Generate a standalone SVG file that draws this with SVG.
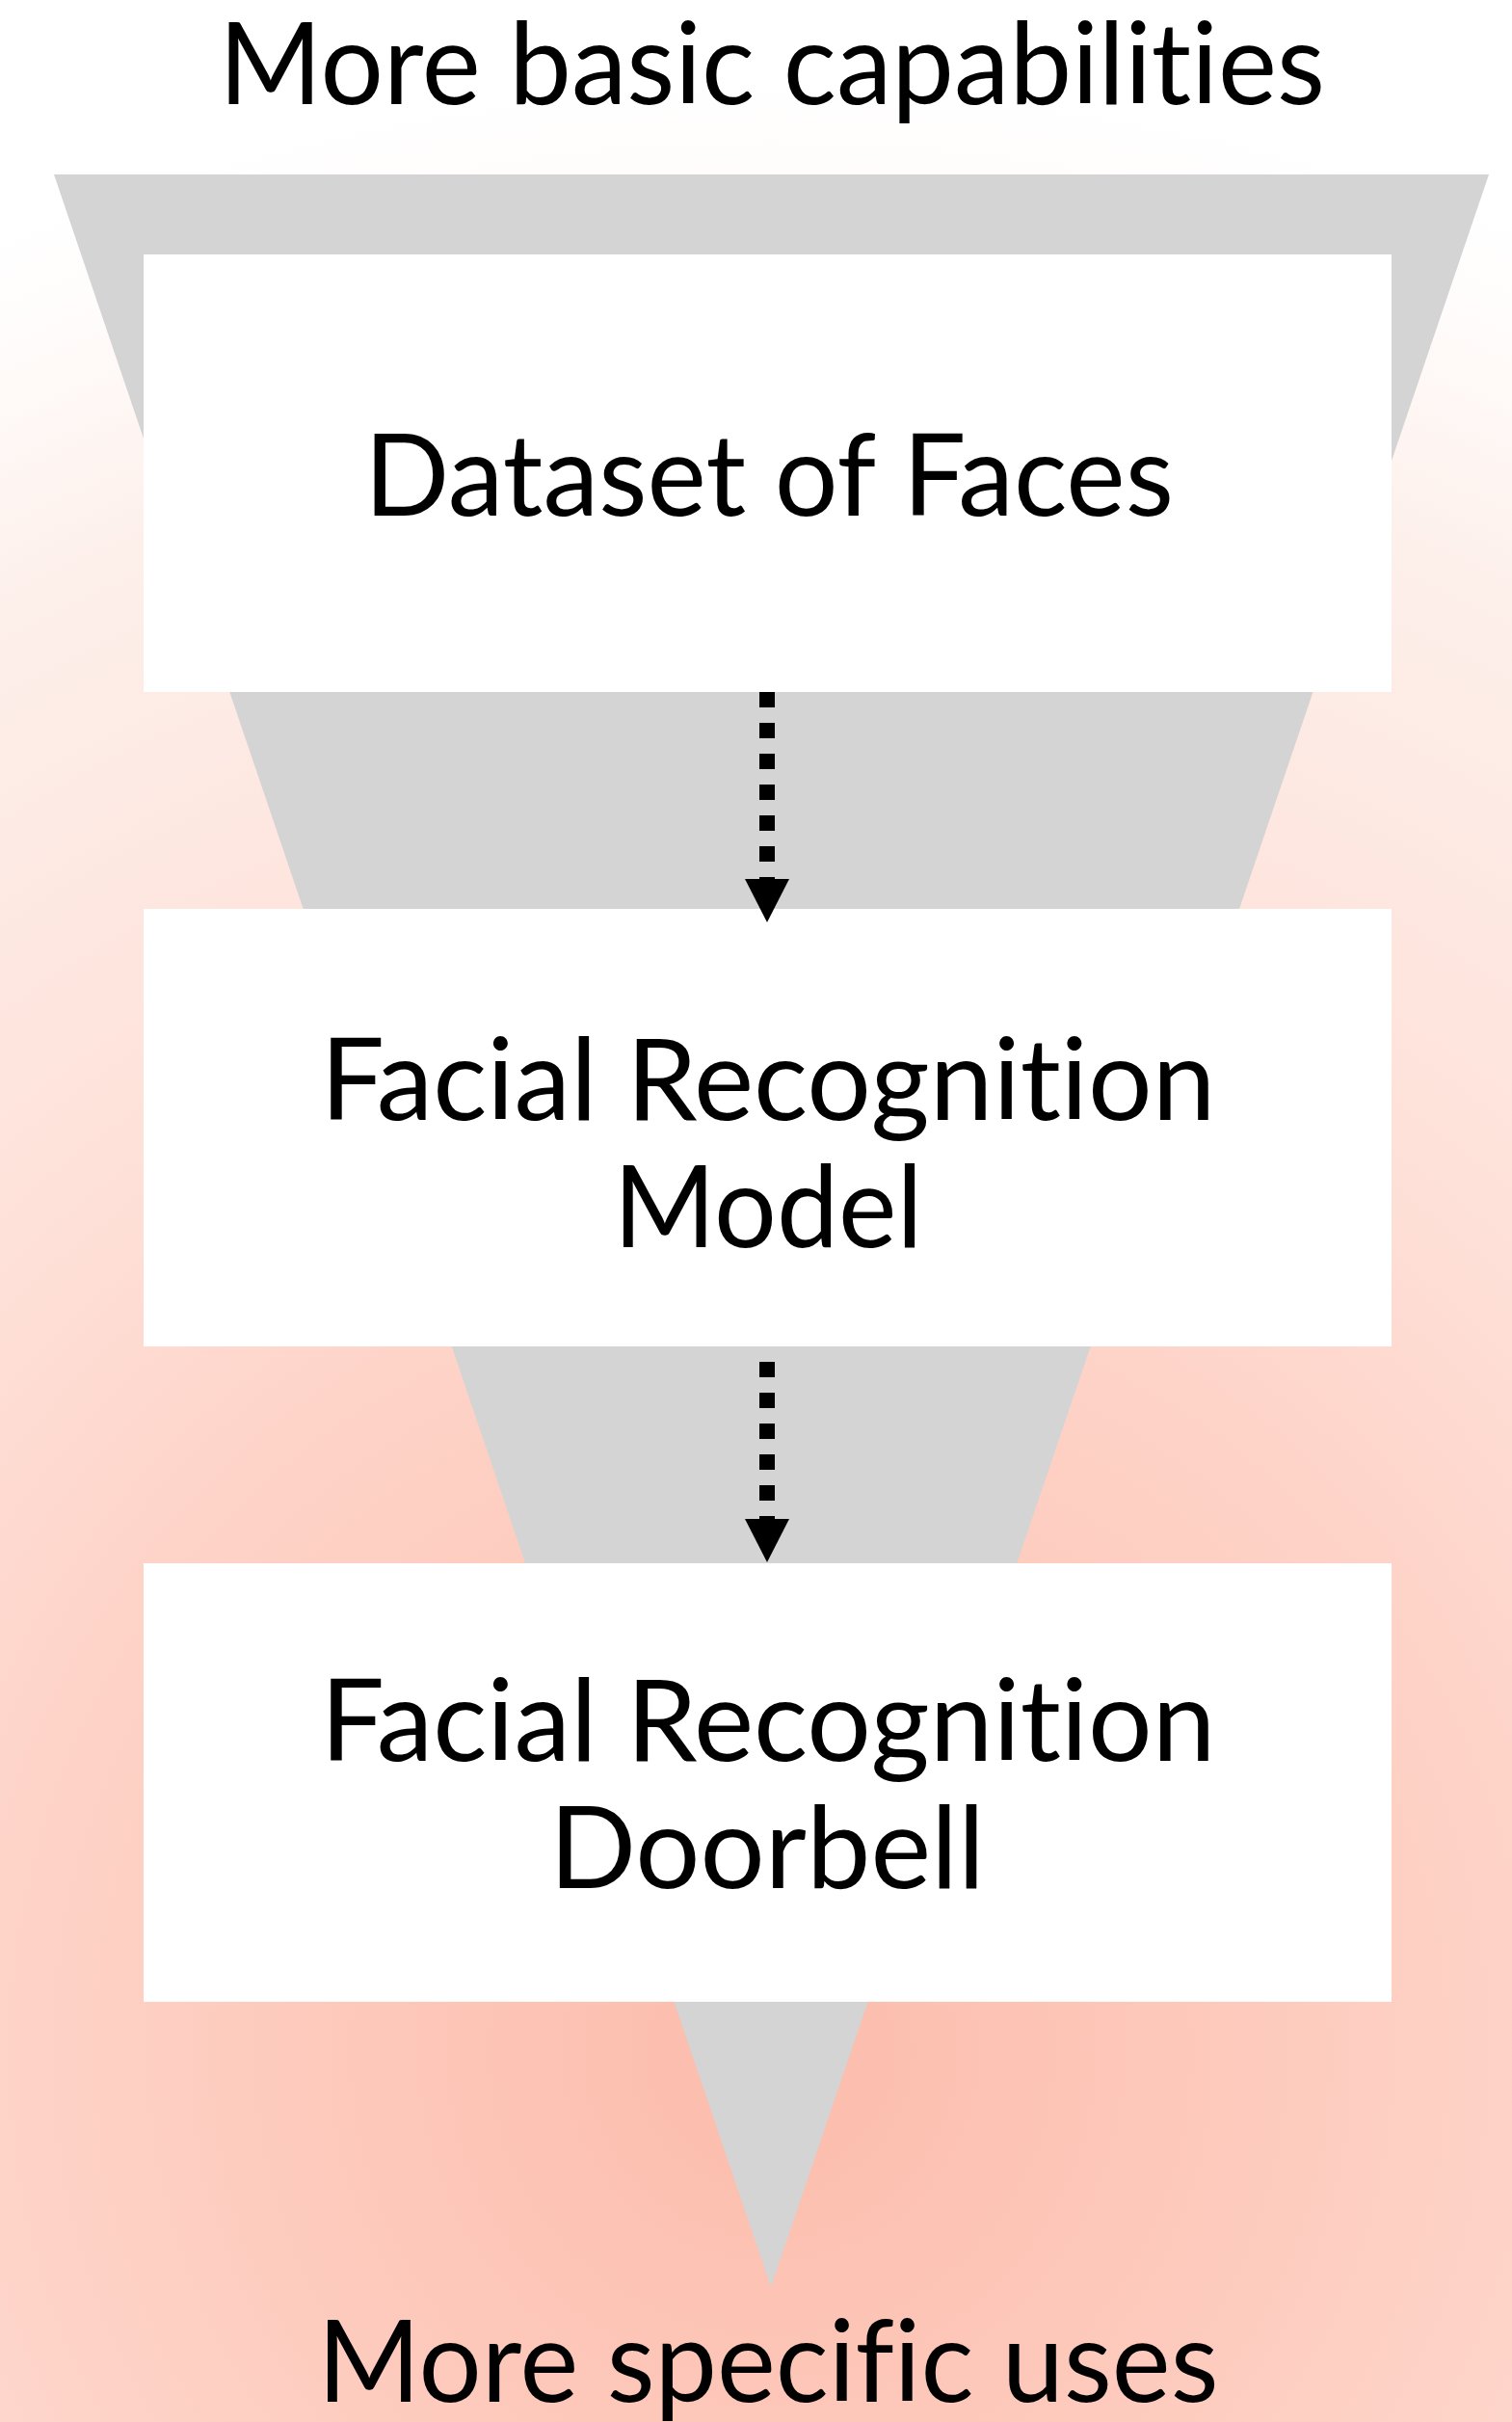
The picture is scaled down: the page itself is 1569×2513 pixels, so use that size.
<svg xmlns="http://www.w3.org/2000/svg" width="1569" height="2513" viewBox="0 0 1569 2513">
  <defs>
    <radialGradient id="bg" gradientUnits="userSpaceOnUse" cx="800" cy="2130" r="2050">
      <stop offset="0" stop-color="#fcbcab"/>
      <stop offset="0.39" stop-color="#fed3c8"/>
      <stop offset="0.57" stop-color="#fee2da"/>
      <stop offset="0.82" stop-color="#fdefea"/>
      <stop offset="0.95" stop-color="#fffcfb"/>
      <stop offset="1" stop-color="#ffffff"/>
    </radialGradient>
    <marker id="arrow" markerUnits="userSpaceOnUse" markerWidth="46" markerHeight="46" viewBox="0 -23 45 46" refX="0" refY="0" orient="auto">
      <path d="M0,-23 L45,0 L0,23 z" fill="#000"/>
    </marker>
  </defs>
  <style>
    .lbl { font-family: "Lato", "Open Sans", "Liberation Sans", sans-serif; font-size: 118px; fill: #000; text-anchor: middle; font-variant-ligatures: none; font-feature-settings: "liga" 0, "dlig" 0; }
    .box { fill: #ffffff; }
    .conn { stroke: #000; stroke-width: 16; stroke-dasharray: 16 16; fill: none; marker-end: url(#arrow); }
  </style>
  <rect x="0" y="0" width="1569" height="2513" fill="url(#bg)"/>
  <polygon points="56,181 1545,181 800,2373" fill="#d4d4d4"/>
  <text class="lbl" x="801" y="108" textLength="1148" lengthAdjust="spacingAndGlyphs">More basic capabilities</text>
  <text class="lbl" x="797" y="2492" textLength="935" lengthAdjust="spacingAndGlyphs">More specific uses</text>
  <g id="node-dataset">
    <rect class="box" x="149" y="264" width="1295" height="454"/>
    <text class="lbl" x="798" y="535" textLength="840" lengthAdjust="spacingAndGlyphs">Dataset of Faces</text>
  </g>
  <g id="node-model">
    <rect class="box" x="149" y="943" width="1295" height="454"/>
    <text class="lbl" x="797" y="1162" textLength="929" lengthAdjust="spacingAndGlyphs">Facial Recognition</text>
    <text class="lbl" x="797" y="1294" textLength="321" lengthAdjust="spacingAndGlyphs">Model</text>
  </g>
  <g id="node-doorbell">
    <rect class="box" x="149" y="1622" width="1295" height="455"/>
    <text class="lbl" x="797" y="1827" textLength="929" lengthAdjust="spacingAndGlyphs">Facial Recognition</text>
    <text class="lbl" x="796" y="1959" textLength="452" lengthAdjust="spacingAndGlyphs">Doorbell</text>
  </g>
  <g id="connectors">
    <line class="conn" x1="796" y1="718" x2="796" y2="912"/>
    <line class="conn" x1="796" y1="1413" x2="796" y2="1576"/>
  </g>
</svg>
